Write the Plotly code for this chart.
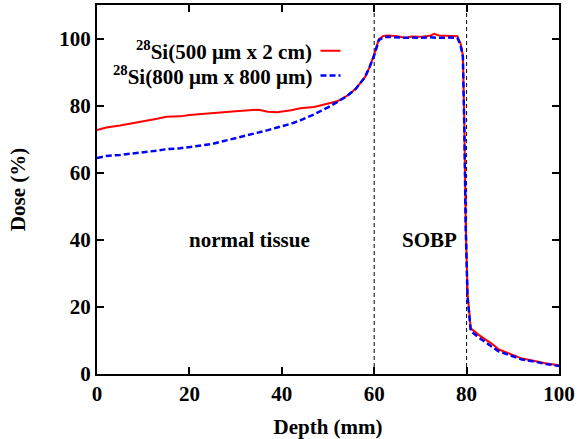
import plotly.graph_objects as go

depth_a = [0, 2, 5, 8, 10, 13, 15, 18, 20, 23, 25, 28, 30, 33, 35, 37, 39, 42, 44, 47, 50, 52, 54, 56, 58, 59, 60, 61, 62, 63, 65, 67, 68, 70, 72, 73, 74, 76, 78, 78.7, 79.2, 79.5, 79.8, 80.2, 80.9, 82.7, 85.5, 87, 90, 92, 95, 97, 100]
dose_a = [72.7, 73.5, 74.1, 74.8, 75.4, 76.1, 76.7, 76.8, 77.2, 77.6, 77.8, 78.1, 78.3, 78.7, 78.8, 78.2, 78.0, 78.6, 79.2, 79.6, 80.5, 81.3, 82.8, 85.0, 88.5, 91.5, 95.3, 99.8, 100.8, 100.9, 100.7, 100.2, 100.6, 100.5, 100.8, 101.4, 100.9, 100.9, 100.7, 98.5, 95.0, 75, 45, 24, 13.6, 11.6, 9.0, 7.3, 5.7, 4.6, 3.8, 3.2, 2.6]

depth_b = [0, 2, 5, 8, 10, 13, 15, 18, 20, 23, 25, 28, 30, 33, 35, 37, 39, 42, 44, 47, 50, 52, 54, 56, 58, 59, 60, 61, 62, 63, 65, 67, 68, 70, 72, 73, 74, 76, 78, 78.7, 79.2, 79.5, 79.8, 80.2, 80.9, 82.7, 85.5, 87, 90, 92, 95, 97, 100]
dose_b = [64.4, 65.0, 65.3, 65.7, 66.1, 66.6, 67.0, 67.3, 67.6, 68.2, 68.6, 69.6, 70.2, 71.3, 72.0, 72.7, 73.5, 74.6, 75.6, 77.4, 79.5, 81.1, 82.7, 85.0, 88.5, 91.5, 95.0, 99.5, 100.4, 100.5, 100.3, 100.2, 100.3, 100.2, 100.4, 100.3, 100.2, 100.3, 100.2, 98.0, 94.5, 74, 44, 23, 12.8, 10.8, 8.3, 6.7, 5.3, 4.3, 3.6, 3.0, 2.4]

x_ticks = [0, 20, 40, 60, 80, 100]
y_ticks = [0, 20, 40, 60, 80, 100]
region_lines = [60, 80]
region_labels = ["normal tissue", "SOBP"]
region_label_x = [33, 72]
region_label_y = [40, 40]
series_names = ["<sup>28</sup>Si(500 \u03bcm x 2 cm)", "<sup>28</sup>Si(800 \u03bcm x 800 \u03bcm)"]

FONT = "Liberation Serif"
FS = 21
fig = go.Figure()
fig.add_trace(go.Scatter(x=depth_a, y=dose_a, mode="lines", name=series_names[0],
                         line=dict(color="#ff0000", width=2), showlegend=False))
fig.add_trace(go.Scatter(x=depth_b, y=dose_b, mode="lines", name=series_names[1],
                         line=dict(color="#0000ff", width=2.5, dash="6px,3px"), showlegend=False))

for xv in region_lines:
    fig.add_shape(type="line", x0=xv, x1=xv, y0=0, y1=110, xref="x", yref="y",
                  line=dict(color="black", width=1, dash="4px,3px"), layer="below")

for txt, xv, yv in zip(region_labels, region_label_x, region_label_y):
    fig.add_annotation(x=xv, y=yv, text="<b>" + txt + "</b>", showarrow=False,
                       font=dict(family=FONT, size=FS, color="black"))

# legend (text at left, key line at right, gnuplot style)
leg_y = [49, 74]  # pixel rows from top
leg_colors = ["#ff0000", "#0000ff"]
leg_dash = ["solid", "6px,3px"]
for name, py, col, dsh in zip(series_names, leg_y, leg_colors, leg_dash):
    yp = (374 - py) / (374 - 3)
    fig.add_annotation(xref="paper", yref="paper", x=(314 - 97) / (560 - 97), y=yp,
                       text="<b>" + name + "</b>", showarrow=False, xanchor="right", yanchor="middle",
                       font=dict(family=FONT, size=FS, color="black"))
    fig.add_shape(type="line", xref="paper", yref="paper",
                  x0=(321 - 97) / (560 - 97), x1=(341 - 97) / (560 - 97),
                  y0=yp, y1=yp,
                  line=dict(color=col, width=2.5 if dsh != "solid" else 2, dash=dsh))

axis_common = dict(showline=True, linecolor="black", linewidth=2, mirror="ticks",
                   ticks="inside", ticklen=7, tickwidth=1.5, tickcolor="black",
                   showgrid=False, zeroline=False,
                   tickfont=dict(family=FONT, size=FS, color="black"))
fig.update_xaxes(range=[0, 100], tickvals=x_ticks, ticktext=["<b>%d</b>" % v for v in x_ticks],
                 title=dict(text="<b>Depth (mm)</b>", font=dict(family=FONT, size=FS, color="black"), standoff=14),
                 **axis_common)
fig.update_yaxes(range=[0, 110], tickvals=y_ticks, ticktext=["<b>%d</b>" % v for v in y_ticks],
                 title=dict(text="<b>Dose (%)</b>", font=dict(family=FONT, size=FS, color="black"), standoff=28),
                 **axis_common)
fig.update_layout(width=578, height=439, margin=dict(l=97, r=18, t=3, b=65),
                  plot_bgcolor="white", paper_bgcolor="white",
                  font=dict(family=FONT, size=FS, color="black"))
fig.write_html("out.html")
